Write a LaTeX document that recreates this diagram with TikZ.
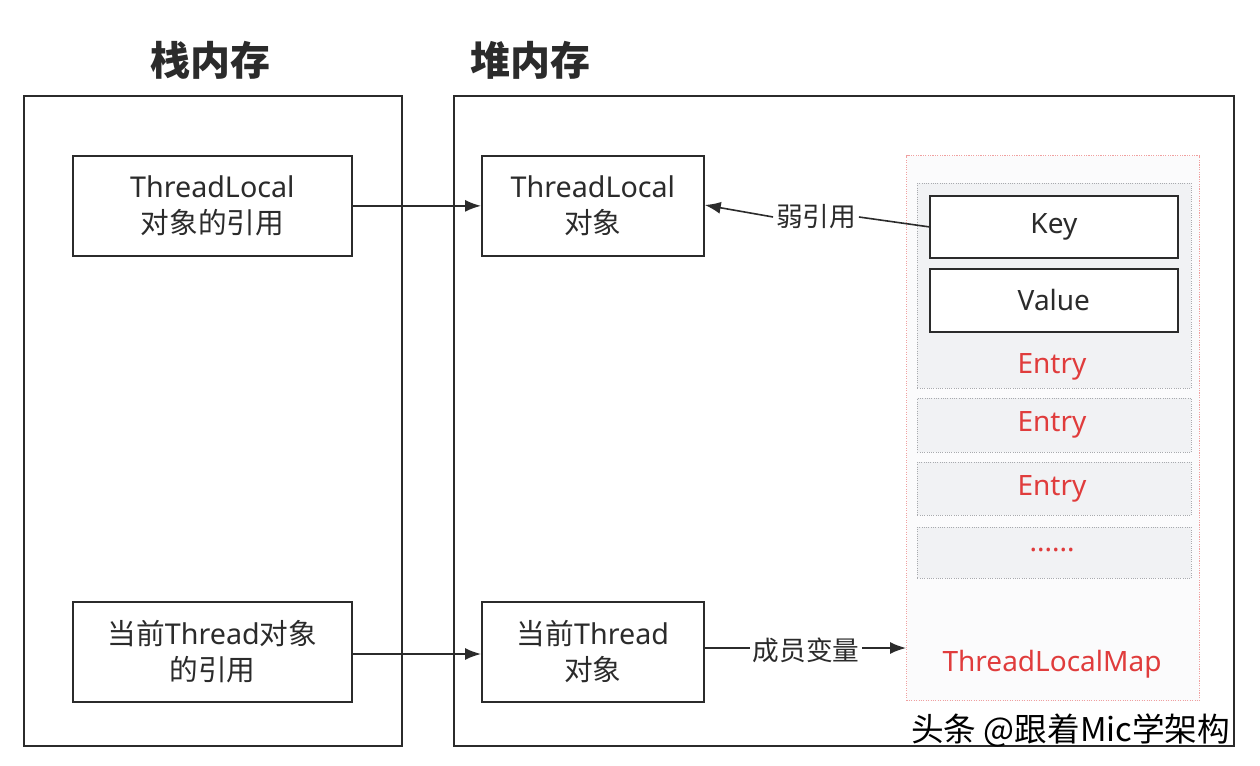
\documentclass[tikz,border=0pt]{standalone}
\usepackage{fontspec}
\setmainfont{Noto Sans}
\newfontfamily\cjk{Noto Sans CJK SC}
\usetikzlibrary{arrows.meta}
\definecolor{ink}{HTML}{2B2B2B}
\definecolor{redtxt}{HTML}{E03C3C}
\definecolor{redline}{HTML}{F0A0A0}
\definecolor{entryfill}{HTML}{F1F2F4}
\definecolor{entryline}{HTML}{A8AAAE}
\definecolor{mapfill}{HTML}{FBFBFC}
\tikzset{
  x=0.75pt, y=-0.75pt,
  region/.style={draw=ink, line width=1.3pt},
  objbox/.style={draw=ink, line width=1.3pt, fill=white, anchor=north west, inner sep=0pt, align=center, text=ink, font=\fontsize{21.5}{27}\selectfont},
  kvbox/.style={draw=ink, line width=1.3pt, fill=white, anchor=north west, inner sep=0pt, align=center, text=ink, font=\fontsize{21}{25}\selectfont},
  entrybox/.style={draw=entryline, densely dotted, line width=0.7pt, fill=entryfill, anchor=north west, inner sep=0pt},
  mapbox/.style={draw=redline, densely dotted, line width=0.8pt, fill=mapfill, anchor=north west, inner sep=0pt},
  redlabel/.style={text=redtxt, font=\fontsize{21}{25}\selectfont, inner sep=1pt},
  heading/.style={text=ink, font=\cjk\bfseries\fontsize{30}{34}\selectfont},
  edgelabel/.style={text=ink, font=\cjk\fontsize{20}{24}\selectfont, inner sep=2pt},
  plainline/.style={draw=ink, line width=1.2pt},
  conn/.style={plainline, -{Latex[length=12pt,width=9pt]}},
}
\begin{document}
\begin{tikzpicture}
\useasboundingbox (0,0) rectangle (1260,766);
\fill[white] (0,0) rectangle (1260,766);
% headings
\node[heading] (h1) at (210,60) {栈内存};
\node[heading] (h2) at (530,60) {堆内存};
% regions
\node[region, anchor=north west, minimum width=378*0.75pt, minimum height=650*0.75pt, inner sep=0pt] (stack) at (23,95) {};
\node[region, anchor=north west, minimum width=780*0.75pt, minimum height=650*0.75pt, inner sep=0pt] (heap) at (453,95) {};
% object boxes
\node[objbox, minimum width=279*0.75pt, minimum height=100*0.75pt] (tlref) at (72,155) {ThreadLocal\\{\cjk 对象的引用}};
\node[objbox, minimum width=222*0.75pt, minimum height=100*0.75pt] (tlobj) at (481,155) {ThreadLocal\\{\cjk 对象}};
\node[objbox, minimum width=279*0.75pt, minimum height=100*0.75pt] (thref) at (72,601) {{\cjk 当前}Thread{\cjk 对象}\\{\cjk 的引用}};
\node[objbox, minimum width=222*0.75pt, minimum height=100*0.75pt] (thobj) at (481,601) {{\cjk 当前}Thread\\{\cjk 对象}};
% map
\node[mapbox, minimum width=293*0.75pt, minimum height=545*0.75pt] (map) at (906,155) {};
\node[entrybox, minimum width=274*0.75pt, minimum height=205*0.75pt] (e1) at (917,183) {};
\node[entrybox, minimum width=274*0.75pt, minimum height=54*0.75pt] (e2) at (917,398) {};
\node[entrybox, minimum width=274*0.75pt, minimum height=53*0.75pt] (e3) at (917,462) {};
\node[entrybox, minimum width=274*0.75pt, minimum height=51*0.75pt] (e4) at (917,527) {};
\node[kvbox, minimum width=248*0.75pt, minimum height=62*0.75pt] (key) at (929,195) {Key};
\node[kvbox, minimum width=248*0.75pt, minimum height=63*0.75pt] (val) at (929,268) {Value};
\node[redlabel] (e1t) at (1052,367) {Entry};
\node[redlabel] (e2t) at (1052,425) {Entry};
\node[redlabel] (e3t) at (1052,489) {Entry};
\node[redlabel] (e4t) at (1052,550) {......};
\node[redlabel] (mapt) at (1052,664) {ThreadLocalMap};
% connectors
\draw[conn] (tlref.east) -- (tlobj.west);
\draw[conn] (thref.east |- 0,654) coordinate (a1) -- (a1 -| thobj.west);
\node[edgelabel] (weak) at (816,217) {弱引用};
\draw[plainline] (key.west) -- (weak.east);
\draw[conn] (weak.west) -- (tlobj.east |- 0,205);
\node[edgelabel] (member) at (806,650) {成员变量};
\draw[plainline] (thobj.east |- 0,648) -- (member.west |- 0,648);
\draw[conn] (member.east |- 0,648) -- (map.west |- 0,648);
% watermark
\node[text=black, font=\cjk\fontsize{24.5}{28}\selectfont, inner sep=0pt, anchor=west] (wm) at (911,730) {头条 @跟着Mic学架构};
\end{tikzpicture}
\end{document}
